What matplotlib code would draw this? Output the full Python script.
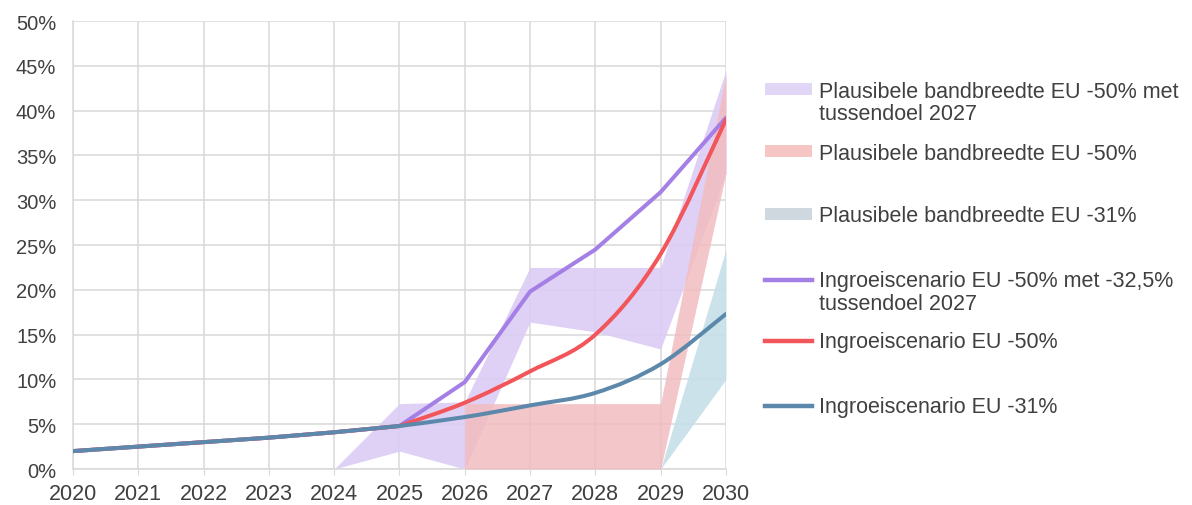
import numpy as np
import matplotlib
matplotlib.use("Agg")
import matplotlib.pyplot as plt
from matplotlib.path import Path
from matplotlib.patches import PathPatch, Patch
from matplotlib.lines import Line2D
from matplotlib.ticker import PercentFormatter

plt.rcParams['font.family'] = ['Liberation Sans', 'DejaVu Sans']

# data (percent)
years = np.arange(2020, 2031)
scen_31 = [2.0, 2.5, 3.0, 3.5, 4.1, 4.8, 5.8, 7.1, 8.5, 11.7, 17.3]
scen_50 = [2.0, 2.5, 3.0, 3.5, 4.1, 4.8, 7.4, 10.9, 15.0, 24.0, 39.0]
scen_50_tussen = [2.0, 2.5, 3.0, 3.5, 4.1, 4.8, 9.7, 19.8, 24.5, 30.9, 39.2]

nan = np.nan
band_50_tussen_low = [nan, nan, nan, nan, 0.0, 2.0, 0.0, 16.4, 15.3, 13.4, 33.0]
band_50_tussen_high = [nan, nan, nan, nan, 0.0, 7.3, 7.5, 22.5, 22.5, 22.5, 44.5]
band_50_low = [nan, nan, nan, nan, nan, nan, 0.0, 0.0, 0.0, 0.0, 33.0]
band_50_high = [nan, nan, nan, nan, nan, nan, 7.3, 7.3, 7.3, 7.3, 44.0]
band_31_low = [nan, nan, nan, nan, nan, nan, nan, nan, nan, 0.0, 10.0]
band_31_high = [nan, nan, nan, nan, nan, nan, nan, nan, nan, 0.0, 24.5]

labels = [("Plausibele bandbreedte EU -50% met", "tussendoel 2027"),
          ("Plausibele bandbreedte EU -50%", None),
          ("Plausibele bandbreedte EU -31%", None),
          ("Ingroeiscenario EU -50% met -32,5%", "tussendoel 2027"),
          ("Ingroeiscenario EU -50%", None),
          ("Ingroeiscenario EU -31%", None)]

c_band_p = '#dcccf4'
c_band_r = '#f2bcc0'
c_band_b = '#c6dfe8'
c_line_p = '#a47fe6'
c_line_r = '#f2555a'
c_line_b = '#5b88ab'
grid_c = '#d9d9d9'
text_c = '#404040'


def smooth_path(x, y, start=0):
    # straight up to `start`, then Excel-like smoothed bezier segments
    n = len(x)
    verts = [(x[0], y[0])]
    codes = [Path.MOVETO]
    for i in range(n - 1):
        if i < start:
            verts.append((x[i + 1], y[i + 1]))
            codes.append(Path.LINETO)
            continue
        a = i - 1 if i > start else i
        d = i + 2 if i + 2 < n else i + 1
        c1 = (x[i] + (x[i + 1] - x[a]) / 6, y[i] + (y[i + 1] - y[a]) / 6)
        c2 = (x[i + 1] - (x[d] - x[i]) / 6, y[i + 1] - (y[d] - y[i]) / 6)
        verts += [c1, c2, (x[i + 1], y[i + 1])]
        codes += [Path.CURVE4] * 3
    return Path(verts, codes)


fig = plt.figure(figsize=(11.92, 5.06), dpi=100)
ax = fig.add_axes([0.0612, 0.0711, 0.5478, 0.8854])

ax.fill_between(years, band_50_tussen_low, band_50_tussen_high, color=c_band_p,
                alpha=0.9, lw=0, zorder=2)
ax.fill_between(years, band_50_low, band_50_high, color=c_band_r,
                alpha=0.85, lw=0, zorder=3)
ax.fill_between(years, band_31_low, band_31_high, color=c_band_b,
                alpha=0.9, lw=0, zorder=4)

xf = years.astype(float)
ax.plot(years, scen_50_tussen, color=c_line_p, lw=2.9, solid_joinstyle='round',
        solid_capstyle='round', zorder=5)
ax.add_patch(PathPatch(smooth_path(xf, scen_50, start=5), fill=False,
                       edgecolor=c_line_r, lw=2.9, capstyle='round', zorder=6))
ax.add_patch(PathPatch(smooth_path(xf, scen_31, start=5), fill=False,
                       edgecolor=c_line_b, lw=2.9, capstyle='round', zorder=7))

ax.set_xlim(2020, 2030)
ax.set_ylim(0, 50)
ax.set_xticks(years)
ax.set_yticks(np.arange(0, 51, 5))
ax.yaxis.set_major_formatter(PercentFormatter(100, decimals=0))
ax.grid(True, color=grid_c, lw=1.1)
ax.set_axisbelow(True)
for s in ['top', 'right']:
    ax.spines[s].set_visible(False)
for s in ['left', 'bottom']:
    ax.spines[s].set_color(grid_c)
    ax.spines[s].set_linewidth(1.1)
ax.tick_params(axis='x', length=4, color=grid_c, labelsize=15.5, labelcolor=text_c, pad=6)
ax.tick_params(axis='y', length=0, labelsize=14.5, labelcolor=text_c, pad=12)

# legend, one block per entry to follow the original spacing
handles = [Patch(facecolor='#e2d6f6', edgecolor='none'),
           Patch(facecolor='#f5c6c3', edgecolor='none'),
           Patch(facecolor='#cfd7df', edgecolor='none'),
           Line2D([], [], color=c_line_p, lw=3.2),
           Line2D([], [], color=c_line_r, lw=3.2),
           Line2D([], [], color=c_line_b, lw=3.2)]
leg_y = [92, 154, 217, 282, 343, 408]
fig.canvas.draw()
for h, (lab, lab2), y in zip(handles, labels, leg_y):
    leg = fig.legend([h], [lab], loc='center left',
                     bbox_to_anchor=(765 / 1192, 1 - y / 506),
                     frameon=False, fontsize=15.5, handlelength=2.2,
                     handleheight=0.5, handletextpad=0.33, borderpad=0,
                     borderaxespad=0, labelcolor=text_c)
    if lab2:
        fig.canvas.draw()
        bb = leg.get_texts()[0].get_window_extent()
        fig.text(bb.x0 / fig.bbox.width, 1 - (y + 23) / 506, lab2,
                 fontsize=15.5, color=text_c, va='center', ha='left')

fig.savefig('out.png', dpi=100)
